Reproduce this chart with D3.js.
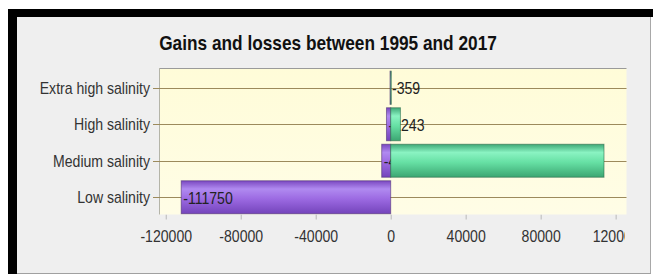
<!DOCTYPE html>
<html><head><meta charset="utf-8">
<script src="https://cdn.jsdelivr.net/npm/d3@7"></script>
<style>
html,body{margin:0;padding:0;background:#fff;overflow:hidden;}
svg{display:block;}
text{font-family:"Liberation Sans",Arial,sans-serif;}
</style></head>
<body>
<svg id="chart" width="653" height="277"></svg>
<script>
const categories = ["Extra high salinity", "High salinity", "Medium salinity", "Low salinity"];
const losses = [-359, -2243, -4800, -111750];
const gains = [300, 5200, 113800, 0];
const xTicks = [-120000, -80000, -40000, 0, 40000, 80000, 120000];
const title = "Gains and losses between 1995 and 2017";

const svg = d3.select("#chart");
const SX = 0.88;

// frame
svg.append("rect").attr("x",0).attr("y",0).attr("width",653).attr("height",277).attr("fill","#fff");
svg.append("rect").attr("x",8).attr("y",9).attr("width",645).attr("height",8).attr("fill","#000");
svg.append("rect").attr("x",8).attr("y",9).attr("width",9).attr("height",265).attr("fill","#000");
svg.append("rect").attr("x",17).attr("y",17).attr("width",633).attr("height",256).attr("fill","#efefef");
svg.append("line").attr("x1",650.5).attr("x2",650.5).attr("y1",17).attr("y2",274).attr("stroke","#a8a8a8");
svg.append("line").attr("x1",17).attr("x2",651).attr("y1",273.5).attr("y2",273.5).attr("stroke","#a0a0a0");

const L = 159, R = 626.5, T = 68, B = 214.5;

const defs = svg.append("defs");
const pg = defs.append("linearGradient").attr("id","gPurple").attr("x1",0).attr("y1",0).attr("x2",0).attr("y2",1);
[[0,"#7a48c0"],[0.25,"#b08af0"],[0.55,"#9c6ae2"],[1,"#7444bb"]].forEach(s=>pg.append("stop").attr("offset",s[0]).attr("stop-color",s[1]));
const gg = defs.append("linearGradient").attr("id","gGreen").attr("x1",0).attr("y1",0).attr("x2",0).attr("y2",1);
[[0,"#3fa877"],[0.25,"#8af3c2"],[0.55,"#66e0a4"],[1,"#3ca672"]].forEach(s=>gg.append("stop").attr("offset",s[0]).attr("stop-color",s[1]));
const bgG = defs.append("linearGradient").attr("id","gBg").attr("x1",0).attr("y1",0).attr("x2",0).attr("y2",1);
[[0,"#fffcd8"],[1,"#fffde6"]].forEach(s=>bgG.append("stop").attr("offset",s[0]).attr("stop-color",s[1]));
defs.append("clipPath").attr("id","clipX").append("rect").attr("x",0).attr("y",0).attr("width",625).attr("height",277);

// plot background
svg.append("rect").attr("x",L).attr("y",T).attr("width",R-L).attr("height",B-T).attr("fill","url(#gBg)");

const x = d3.scaleLinear().domain([-123600, 125800]).range([L, R]);
const y = d3.scaleBand().domain(categories).range([69.5, 215.5]).paddingInner(0.096).paddingOuter(0.048);
const cy = c => y(c) + y.bandwidth()/2;

// plot borders
svg.append("line").attr("x1",L).attr("x2",R).attr("y1",T+0.5).attr("y2",T+0.5).attr("stroke","#9a9a9a");
svg.append("line").attr("x1",L+0.5).attr("x2",L+0.5).attr("y1",T).attr("y2",B).attr("stroke","#b4b4a8");

// gridlines + category ticks
categories.forEach(c=>{
  svg.append("line").attr("x1",153).attr("x2",R).attr("y1",Math.round(cy(c))+0.5).attr("y2",Math.round(cy(c))+0.5)
    .attr("stroke","#9c8a5c").attr("stroke-width",1);
});

// x axis ticks
const xAxis = d3.axisBottom(x).tickValues(xTicks).tickSize(5).tickPadding(11).tickFormat(d => String(d));
const ax = svg.append("g").attr("transform",`translate(0,${B})`).call(xAxis).attr("clip-path","url(#clipX)");
ax.select(".domain").remove();
ax.selectAll(".tick line").attr("stroke","#b8b8b8");
ax.selectAll(".tick text").attr("font-size",16).attr("fill","#333")
  .attr("font-family","'Liberation Sans',Arial,sans-serif")
  .attr("transform",`scale(${SX},1)`);

// category labels
categories.forEach(c=>{
  svg.append("text").attr("transform",`translate(150,${cy(c)}) scale(${SX},1)`)
    .attr("text-anchor","end").attr("dy","0.36em").attr("font-size",16).attr("fill","#333").text(c);
});

// loss bars
categories.forEach((c,i)=>{
  const x0 = x(losses[i]), x1 = x(0);
  svg.append("rect").attr("x",x0).attr("y",y(c)).attr("width",Math.max(x1-x0,0.6)).attr("height",y.bandwidth())
    .attr("fill","url(#gPurple)").attr("stroke","rgba(70,40,110,0.55)").attr("stroke-width",1);
});
// labels
categories.forEach((c,i)=>{
  svg.append("text").attr("transform",`translate(${x(losses[i])+2},${cy(c)+0.5}) scale(${SX},1)`)
    .attr("dy","0.36em").attr("font-size",16).attr("fill","#222").text(String(losses[i]));
});
// gain bars
categories.forEach((c,i)=>{
  if (gains[i] <= 0) return;
  const x0 = x(0), x1 = x(gains[i]);
  svg.append("rect").attr("x",x0).attr("y",y(c)).attr("width",Math.max(x1-x0,0.6)).attr("height",y.bandwidth())
    .attr("fill","url(#gGreen)").attr("stroke","rgba(40,100,70,0.55)").attr("stroke-width",1);
});

// title
svg.append("text").attr("transform",`translate(328,50) scale(0.886,1)`).attr("text-anchor","middle")
  .attr("font-size",19.5).attr("font-weight","bold").attr("fill","#111").text(title);
</script>
</body></html>
